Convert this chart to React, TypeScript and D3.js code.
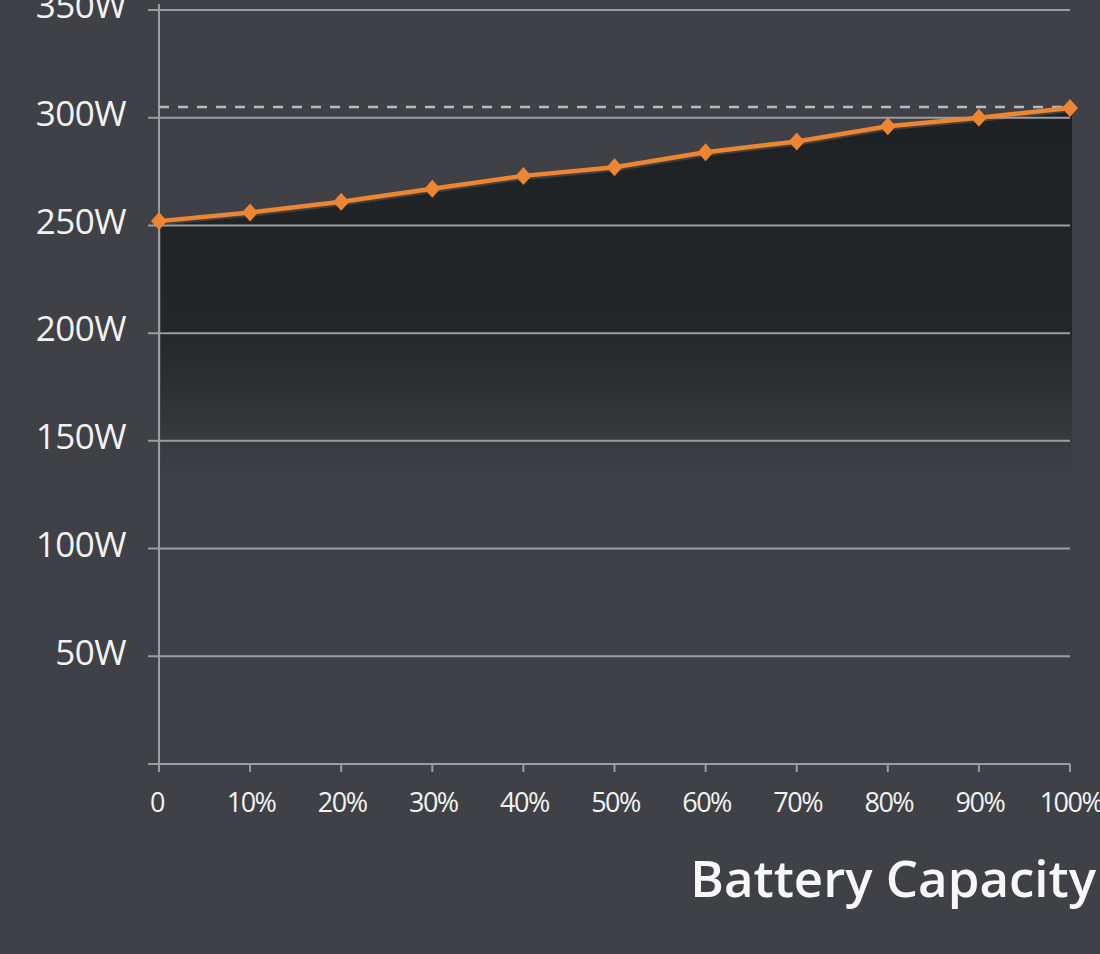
import React, { useEffect, useRef } from 'react';
import * as d3 from 'd3';

// battery capacity (%) vs output power (W)
const capacity = [0, 10, 20, 30, 40, 50, 60, 70, 80, 90, 100];
const power = [252, 256, 261, 267, 273, 277, 284, 289, 296, 300, 304.5];
const yTicks = [50, 100, 150, 200, 250, 300, 350];
const xTicks = [0, 10, 20, 30, 40, 50, 60, 70, 80, 90, 100];
const maxLine = 305;

const W = 1100;
const H = 954;

const App = () => {
    const svgRef = useRef<SVGSVGElement>(null);

    useEffect(() => {
        const svg = d3.select(svgRef.current);
        svg.selectAll('*').remove();

        const font = '"Open Sans", "DejaVu Sans", sans-serif';
        const gridColor = '#9b9da1';
        const orange = '#ee8530';

        svg.append('rect').attr('width', W).attr('height', H).attr('fill', '#3f4146');

        const x = d3.scaleLinear().domain([0, 100]).range([159, 1070]);
        const y = d3.scaleLinear().domain([0, 350]).range([764, 10]);

        const defs = svg.append('defs');
        const grad = defs.append('linearGradient')
            .attr('id', 'areaFade')
            .attr('gradientUnits', 'userSpaceOnUse')
            .attr('x1', 0).attr('x2', 0)
            .attr('y1', 100).attr('y2', 480);
        grad.append('stop').attr('offset', '0%').attr('stop-color', '#1e2123');
        grad.append('stop').attr('offset', '60%').attr('stop-color', '#24272a');
        grad.append('stop').attr('offset', '74%').attr('stop-color', '#2c2f32');
        grad.append('stop').attr('offset', '100%').attr('stop-color', '#3f4146');

        const pts = capacity.map((c, i) => ({ c, p: power[i] }));

        // shaded area under the curve
        const area = d3.area<{ c: number; p: number }>()
            .x(d => x(d.c))
            .y0(y(0))
            .y1(d => y(d.p) + 4);
        svg.append('path')
            .datum(pts)
            .attr('d', area)
            .attr('transform', 'translate(2,0)')
            .attr('fill', 'url(#areaFade)');

        // horizontal grid
        svg.append('g')
            .selectAll('line')
            .data(yTicks)
            .enter()
            .append('line')
            .attr('x1', 148)
            .attr('x2', 1070)
            .attr('y1', d => y(d))
            .attr('y2', d => y(d))
            .attr('stroke', gridColor)
            .attr('stroke-width', 2);

        // y labels
        svg.append('g')
            .selectAll('text')
            .data(yTicks)
            .enter()
            .append('text')
            .attr('x', 126)
            .attr('y', d => y(d) - 4)
            .attr('dy', '0.35em')
            .attr('text-anchor', 'end')
            .attr('fill', '#f2f2f2')
            .style('font-family', font)
            .style('font-size', '35px')
            .style('font-weight', 500)
            .style('letter-spacing', '-0.5px')
            .text(d => `${d}W`);

        // axes
        svg.append('line')
            .attr('x1', 159).attr('x2', 159)
            .attr('y1', 4).attr('y2', 770)
            .attr('stroke', gridColor).attr('stroke-width', 2);
        svg.append('line')
            .attr('x1', 148).attr('x2', 1070)
            .attr('y1', 764).attr('y2', 764)
            .attr('stroke', gridColor).attr('stroke-width', 2);

        svg.append('g')
            .selectAll('line')
            .data(xTicks)
            .enter()
            .append('line')
            .attr('x1', d => x(d))
            .attr('x2', d => x(d))
            .attr('y1', 764)
            .attr('y2', 772)
            .attr('stroke', gridColor)
            .attr('stroke-width', 2);

        svg.append('g')
            .selectAll('text')
            .data(xTicks)
            .enter()
            .append('text')
            .attr('x', d => x(d) + (d === 0 ? -2 : 1))
            .attr('y', 803)
            .attr('dy', '0.35em')
            .attr('text-anchor', 'middle')
            .attr('fill', '#f2f2f2')
            .style('font-family', font)
            .style('font-size', '27px')
            .style('font-weight', 500)
            .style('letter-spacing', '-1.5px')
            .text(d => (d === 0 ? '0' : `${d}%`));

        // max power reference line
        svg.append('line')
            .attr('x1', 159)
            .attr('x2', 1070)
            .attr('y1', y(maxLine))
            .attr('y2', y(maxLine))
            .attr('stroke', '#b8babd')
            .attr('stroke-width', 2.5)
            .attr('stroke-dasharray', '10,9');

        // power curve
        const line = d3.line<{ c: number; p: number }>()
            .x(d => x(d.c))
            .y(d => y(d.p));
        svg.append('path')
            .datum(pts)
            .attr('d', line)
            .attr('fill', 'none')
            .attr('stroke', orange)
            .attr('stroke-width', 4.5);

        svg.append('g')
            .selectAll('path')
            .data(pts)
            .enter()
            .append('path')
            .attr('d', 'M0,-9L8,0L0,9L-8,0Z')
            .attr('transform', d => `translate(${x(d.c)},${y(d.p)})`)
            .attr('fill', orange);

        svg.append('text')
            .attr('x', 1096)
            .attr('y', 897)
            .attr('text-anchor', 'end')
            .attr('fill', '#f7f7f7')
            .style('font-family', font)
            .style('font-size', '51px')
            .style('font-weight', 600)
            .style('letter-spacing', '0px')
            .text('Battery Capacity');
    }, []);

    return (
        <div style={{ position: 'absolute', left: 0, top: 0 }}>
            <svg ref={svgRef} width={W} height={H} style={{ display: 'block' }}></svg>
        </div>
    );
};

export default App;
